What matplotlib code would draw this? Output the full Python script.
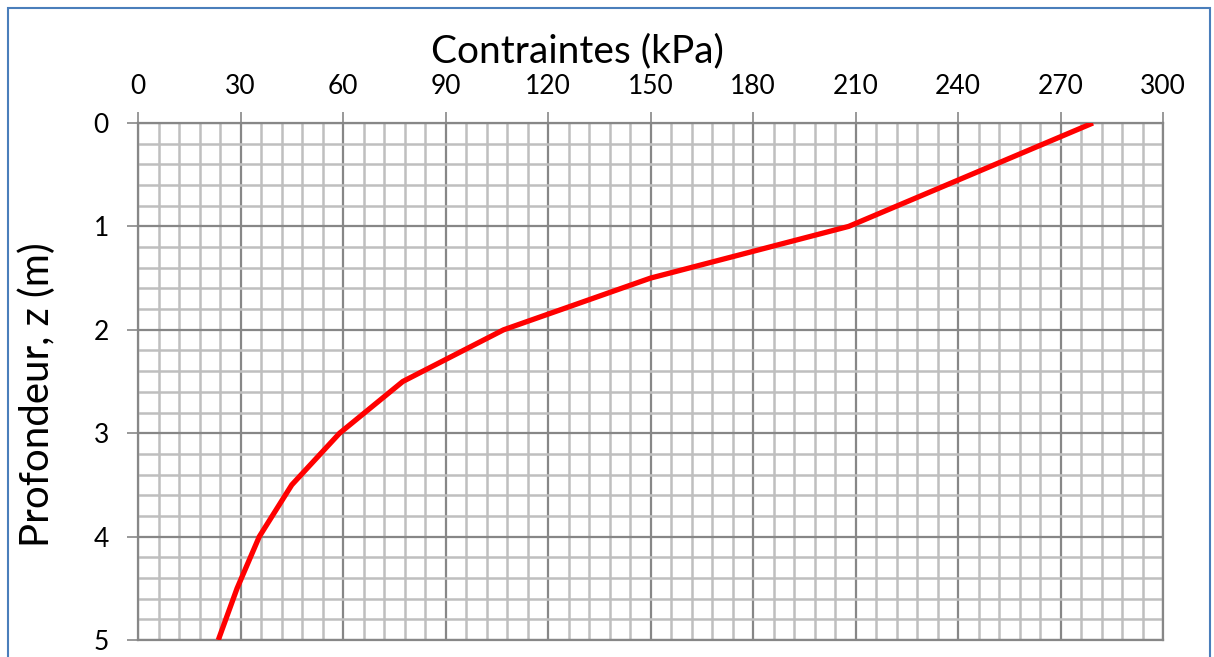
import numpy as np
import matplotlib
matplotlib.use("Agg")
import matplotlib.pyplot as plt
from matplotlib.patches import Rectangle
from matplotlib.ticker import MultipleLocator

# Contraintes en fonction de la profondeur
depth = [0, 1, 1.5, 2, 2.5, 3, 3.5, 4, 4.5, 5]
stress = [279.5, 208, 150, 107, 77.5, 59, 45, 35.5, 29, 23.5]

plt.rcParams['font.family'] = ['Lato', 'DejaVu Sans']

fig = plt.figure(figsize=(12.14, 6.57), dpi=100)
ax = fig.add_axes([138 / 1214, 17 / 657, 1025 / 1214, 517 / 657])

major_c = '#878787'
minor_c = '#bfbfbf'

ax.plot(stress, depth, color='#ff0000', lw=3.8, solid_capstyle='butt', zorder=3)

ax.set_xlim(0, 300)
ax.set_ylim(5, 0)
ax.xaxis.set_major_locator(MultipleLocator(30))
ax.xaxis.set_minor_locator(MultipleLocator(6))
ax.yaxis.set_major_locator(MultipleLocator(1))
ax.yaxis.set_minor_locator(MultipleLocator(0.2))

ax.grid(which='major', color=major_c, lw=1.6)
ax.grid(which='minor', color=minor_c, lw=1.8)
ax.set_axisbelow(True)

ax.xaxis.tick_top()
ax.xaxis.set_label_position('top')
ax.tick_params(axis='both', which='major', length=8, width=1.2, color=major_c,
               labelsize=19, pad=13)
ax.tick_params(axis='x', pad=9.5)
ax.tick_params(axis='both', which='minor', length=0)
for s in ax.spines.values():
    s.set_color(major_c)
    s.set_linewidth(1.6)

ax.set_xlabel('Contraintes (kPa)', fontsize=28)
ax.xaxis.set_label_coords(0.429, 1.118)
ax.set_ylabel('Profondeur, z (m)', fontsize=29)
ax.yaxis.set_label_coords(-0.08, 0.474)

# cadre du graphique
fig.patches.append(Rectangle((8 / 1214, -0.05), 1202 / 1214, 1.0 - 8 / 657 + 0.05,
                             transform=fig.transFigure, fill=False,
                             edgecolor='#4a7ebb', lw=1.5, zorder=10))

fig.savefig('out.png', dpi=100)
